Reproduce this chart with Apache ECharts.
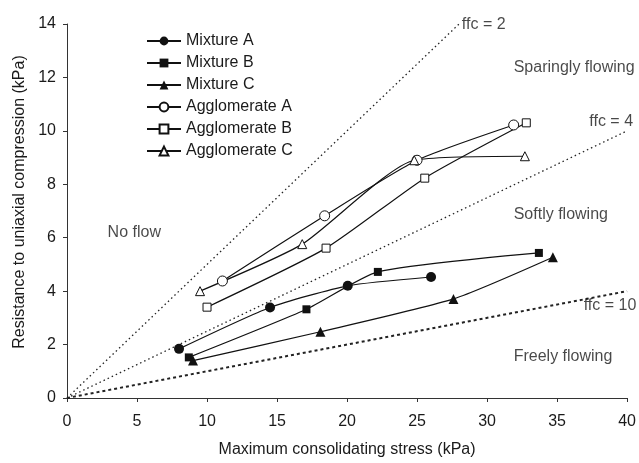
<!DOCTYPE html>
<html>
<head>
<meta charset="utf-8">
<script src="https://cdn.jsdelivr.net/npm/echarts@6/dist/echarts.min.js"></script>
<style>
  html, body { margin: 0; padding: 0; background: #fff; }
  #container { width: 639px; height: 463px; }
</style>
</head>
<body>
<div id="container"></div>
<script>
// series data (x = max consolidating stress, y = resistance)
var names = ['Mixture A', 'Mixture B', 'Mixture C', 'Agglomerate A', 'Agglomerate B', 'Agglomerate C'];
var mixA_x = [8.0, 14.5, 20.05, 26.0];
var mixA_y = [1.84, 3.39, 4.2, 4.53];
var mixB_x = [8.7, 17.1, 22.2, 33.7];
var mixB_y = [1.52, 3.32, 4.72, 5.43];
var mixC_x = [9.0, 18.1, 27.6, 34.7];
var mixC_y = [1.4, 2.48, 3.71, 5.27];
var aggA_x = [11.1, 18.4, 25.0, 31.9];
var aggA_y = [4.38, 6.82, 8.9, 10.22];
var aggB_x = [10.0, 18.5, 25.55, 32.8];
var aggB_y = [3.4, 5.61, 8.23, 10.3];
var aggC_x = [9.5, 16.8, 24.8, 32.7];
var aggC_y = [4.0, 5.76, 8.9, 9.05];

// flow function lines
var ffcValues = [2, 4, 10];
var ffcLabels = ['ffc = 2', 'ffc = 4', 'ffc = 10'];

var xTicks = [0, 5, 10, 15, 20, 25, 30, 35, 40];
var yTicks = [0, 2, 4, 6, 8, 10, 12, 14];

var dom = document.getElementById('container');
var myChart = echarts.init(dom);

function pairs(xs, ys) {
    return xs.map(function (x, i) { return [x, ys[i]]; });
}

var markerStyle = [
    { symbol: 'circle', size: 10, fill: '#111' },
    { symbol: 'rect', size: 8, fill: '#111' },
    { symbol: 'triangle', size: 10, fill: '#111' },
    { symbol: 'circle', size: 10, fill: '#fff' },
    { symbol: 'rect', size: 8, fill: '#fff' },
    { symbol: 'triangle', size: 9, fill: '#fff' }
];
var seriesData = [
    pairs(mixA_x, mixA_y), pairs(mixB_x, mixB_y), pairs(mixC_x, mixC_y),
    pairs(aggA_x, aggA_y), pairs(aggB_x, aggB_y), pairs(aggC_x, aggC_y)
];

var series = [];

// ffc lines first so they sit under the data
var ffcStyles = [
    { width: 1.3, type: [1.5, 3] },
    { width: 1.3, type: [1.5, 3] },
    { width: 2, type: [3, 3] }
];
ffcValues.forEach(function (f, i) {
    var xEnd = Math.min(40, 14 * f);
    series.push({
        name: ffcLabels[i],
        type: 'line',
        data: [[0, 0], [xEnd, xEnd / f]],
        symbol: 'none',
        silent: true,
        lineStyle: { color: '#222', width: ffcStyles[i].width, type: ffcStyles[i].type },
        z: 1
    });
});

names.forEach(function (n, i) {
    var m = markerStyle[i];
    series.push({
        name: n,
        type: 'line',
        data: seriesData[i],
        smooth: 0.2,
        symbol: m.symbol,
        symbolSize: m.size,
        showSymbol: true,
        itemStyle: { color: m.fill, borderColor: '#111', borderWidth: m.fill === '#fff' ? 1 : 0 },
        lineStyle: { color: '#111', width: 1.2 },
        z: 3
    });
});

// text annotations
var annotPts = [
    { name: 'No flow', value: [2.9, 6.2] },
    { name: 'Sparingly flowing', value: [31.9, 12.38] },
    { name: 'Softly flowing', value: [31.9, 6.85] },
    { name: 'Freely flowing', value: [31.9, 1.55] },
    { name: 'ffc = 2', value: [28.2, 13.96] },
    { name: 'ffc = 4', value: [37.3, 10.35] },
    { name: 'ffc = 10', value: [36.9, 3.46] }
];
series.push({
    name: 'annotations',
    type: 'scatter',
    symbolSize: 0,
    silent: true,
    data: annotPts,
    label: {
        show: true,
        position: 'right',
        distance: 0,
        formatter: '{b}',
        color: '#1a1a1a',
        fontSize: 16
    },
    z: 4
});

var option = {
    animation: false,
    backgroundColor: '#fff',
    textStyle: { fontFamily: 'Liberation Sans, Arial, sans-serif' },
    grid: { left: 67, right: 10, top: 24, bottom: 59 },
    legend: {
        data: names,
        orient: 'vertical',
        left: 141,
        top: 28,
        itemWidth: 34,
        itemHeight: 11,
        itemGap: 6,
        textStyle: { fontSize: 16, color: '#1a1a1a' }
    },
    xAxis: {
        type: 'value',
        min: xTicks[0],
        max: xTicks[xTicks.length - 1],
        interval: 5,
        name: 'Maximum consolidating stress (kPa)',
        nameLocation: 'middle',
        nameGap: 44,
        nameTextStyle: { fontSize: 16, color: '#1a1a1a' },
        axisLine: { lineStyle: { color: '#333', width: 1 } },
        axisTick: { show: true, length: 4, lineStyle: { color: '#333' } },
        axisLabel: { fontSize: 16, color: '#1a1a1a', margin: 16 },
        splitLine: { show: false }
    },
    yAxis: {
        type: 'value',
        min: yTicks[0],
        max: yTicks[yTicks.length - 1],
        interval: 2,
        name: 'Resistance to uniaxial compression (kPa)',
        nameLocation: 'middle',
        nameGap: 38,
        nameTextStyle: { fontSize: 16, color: '#1a1a1a', padding: [0, 0, 0, 18] },
        axisLine: { show: true, lineStyle: { color: '#333', width: 1 } },
        axisTick: { show: true, length: 4, lineStyle: { color: '#333' } },
        axisLabel: { fontSize: 16, color: '#1a1a1a', margin: 11 },
        splitLine: { show: false }
    },
    series: series
};

if (option && typeof option === 'object') {
    myChart.setOption(option, true);
}
</script>
</body>
</html>
